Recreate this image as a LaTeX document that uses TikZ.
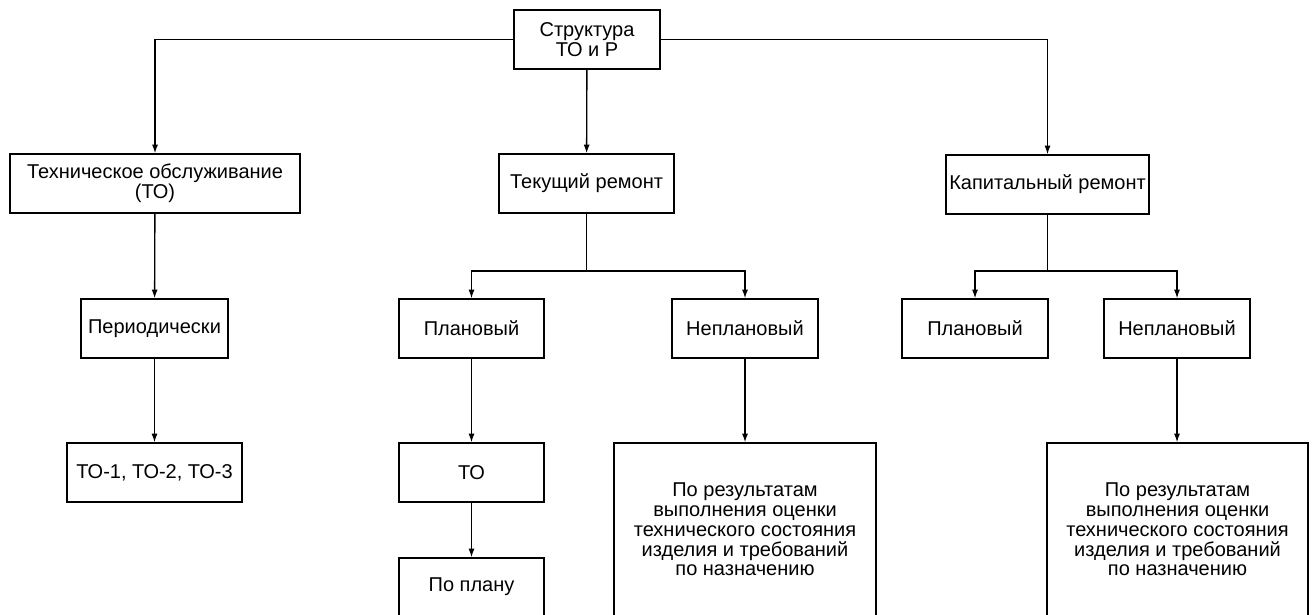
\documentclass[tikz,border=0pt]{standalone}
\usepackage{fontspec}
\setmainfont{Liberation Sans}
\usetikzlibrary{arrows.meta}

\begin{document}
\begin{tikzpicture}[x=0.75pt, y=-0.75pt, line width=1pt,
  >={Latex[length=6.5pt,width=4.5pt]},
  blk/.style 2 args={draw, line width=1pt, minimum width=#1*0.75pt, minimum height=#2*0.75pt,
    inner sep=0pt, align=center, font=\fontsize{15}{14.8}\selectfont}]
  \useasboundingbox (0,0) rectangle (1316,614);
  % top level
  \node[blk={146}{59}] (root) at (587,39.5) {Структура\\ТО и Р};
  \node[blk={290}{59}] (to) at (155,183.5) {Техническое обслуживание\\(ТО)};
  \node[blk={175}{59}] (tek) at (586.5,183.5) {Текущий ремонт};
  \node[blk={203}{59}] (kap) at (1047.5,184.5) {Капитальный ремонт};
  % second level
  \node[blk={147}{59}] (per) at (154.5,328.5) {Периодически};
  \node[blk={145}{59}] (tekplan) at (471.5,328.5) {Плановый};
  \node[blk={146}{59}] (teknepl) at (745,328.5) {Неплановый};
  \node[blk={146}{59}] (kapplan) at (975,328.5) {Плановый};
  \node[blk={146}{59}] (kapnepl) at (1177,328.5) {Неплановый};
  % third level
  \node[blk={175}{59}] (toviews) at (154.5,472.5) {ТО-1, ТО-2, ТО-3};
  \node[blk={145}{59}] (tekto) at (471.5,472.5) {ТО};
  \node[blk={145}{58}] (poplanu) at (471.5,587) {По плану};
  \node[blk={262}{173}] (tekrez) at (745,529.5) {По результатам\\выполнения оценки\\технического состояния\\изделия и требований\\по назначению};
  \node[blk={261}{173}] (kaprez) at (1177.5,529.5) {По результатам\\выполнения оценки\\технического состояния\\изделия и требований\\по назначению};
  % branch points
  \coordinate (tekfork) at (586.5,271);
  \coordinate (kapfork) at (1047.5,271);

  \draw[->] (root.west) -| (to.north);
  \draw[->] (root.east) -| (kap.north);
  \draw[->] (root) -- (tek);
  \draw[->] (to) -- (per);
  \draw[->] (per) -- (toviews);
  \draw (tek) -- (tekfork);
  \draw[->] (tekfork) -| (tekplan.north);
  \draw[->] (tekfork) -| (teknepl.north);
  \draw[->] (tekplan) -- (tekto);
  \draw[->] (tekto) -- (poplanu);
  \draw[->] (teknepl) -- (teknepl |- tekrez.north);
  \draw (kap) -- (kapfork);
  \draw[->] (kapfork) -| (kapplan.north);
  \draw[->] (kapfork) -| (kapnepl.north);
  \draw[->] (kapnepl) -- (kapnepl |- kaprez.north);
\end{tikzpicture}
\end{document}
